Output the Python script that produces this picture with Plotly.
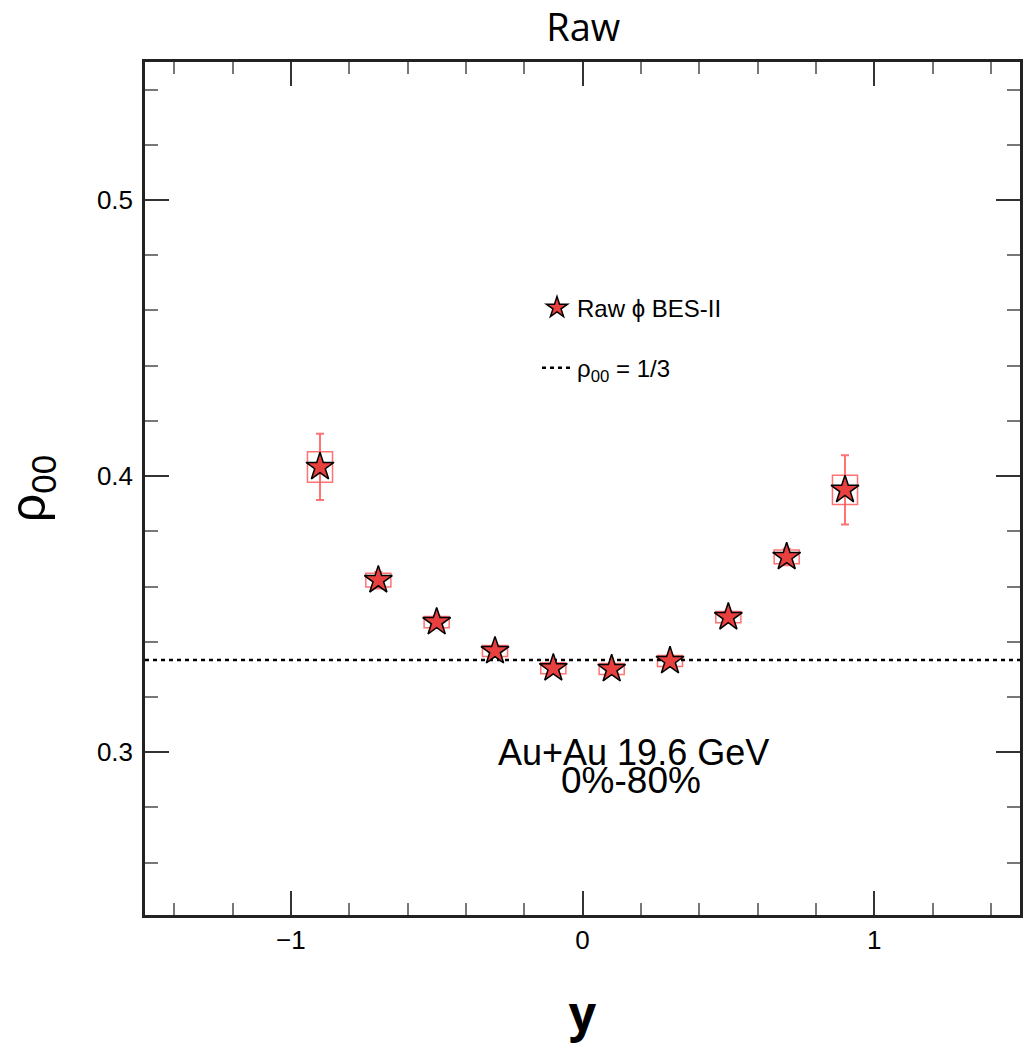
import plotly.graph_objects as go

# ---- data ----
rapidity = [-0.9, -0.7, -0.5, -0.3, -0.1, 0.1, 0.3, 0.5, 0.7, 0.9]
rho00 = [0.4033, 0.3623, 0.3471, 0.3366, 0.3304, 0.3301, 0.3330, 0.3489, 0.3707, 0.3950]
stat_err = [0.0120, 0.0030, 0.0020, 0.0020, 0.0020, 0.0020, 0.0020, 0.0020, 0.0030, 0.0125]
sys_err = [0.0055, 0.0025, 0.0020, 0.0020, 0.0020, 0.0020, 0.0020, 0.0020, 0.0025, 0.0053]
sys_halfwidth = 0.043
ref_value = 1.0 / 3.0
x_range = [-1.5, 1.5]
y_range = [0.241, 0.55]
series_name = "Raw \u03d5 BES-II"
ref_name = "\u03c1<sub>00</sub> = 1/3"
title_text = "Raw"
collision_text = "Au+Au 19.6 GeV"
centrality_text = "0%-80%"

RED = "#e8403e"
BOX_RED = "rgba(255,90,90,0.85)"

fig = go.Figure()

# systematic boxes
for xv, yv, s in zip(rapidity, rho00, sys_err):
    fig.add_shape(type="rect", xref="x", yref="y",
                  x0=xv - sys_halfwidth, x1=xv + sys_halfwidth,
                  y0=yv - s, y1=yv + s,
                  line=dict(color=BOX_RED, width=1.5), fillcolor="rgba(0,0,0,0)", layer="below")

# reference line
fig.add_trace(go.Scatter(x=x_range, y=[ref_value, ref_value], mode="lines",
                         line=dict(color="black", width=2.5, dash="4px,4px"),
                         name=ref_name, legendgroup="b", legendrank=2))

# data points
fig.add_trace(go.Scatter(x=rapidity, y=rho00, mode="markers",
                         marker=dict(symbol="star", size=21, color=RED,
                                     line=dict(color="black", width=1.5)),
                         error_y=dict(type="data", array=stat_err, visible=True,
                                      color="rgba(255,90,90,0.85)", thickness=2, width=4),
                         name=series_name, legendgroup="a", legendrank=1))

# text annotations
fig.add_annotation(x=0.175, y=0.3, xref="x", yref="y", text=collision_text, showarrow=False,
                   font=dict(family="Liberation Sans", size=36, color="black"))
fig.add_annotation(x=0.165, y=0.2899, xref="x", yref="y", text=centrality_text, showarrow=False,
                   font=dict(family="Liberation Sans", size=37, color="black"))

axis_common = dict(showline=True, linecolor="#222", linewidth=2.5, mirror="allticks",
                   ticks="inside", tickcolor="#333", tickwidth=2, showgrid=False,
                   zeroline=False,
                   tickfont=dict(family="Liberation Sans", size=26, color="black"))

fig.update_layout(
    width=1025, height=1048,
    paper_bgcolor="white", plot_bgcolor="white",
    margin=dict(l=145, r=2, t=62, b=133),
    title=dict(text=title_text, x=0.569, xanchor="center", y=0.974, yanchor="middle",
               font=dict(family="Open Sans", size=38, color="black")),
    showlegend=True,
    legend=dict(x=0.448, y=0.738, xanchor="left", yanchor="top",
                bgcolor="rgba(0,0,0,0)", traceorder="grouped", tracegroupgap=26,
                font=dict(family="Liberation Sans", size=24, color="black")),
    xaxis=dict(range=x_range, dtick=1, tick0=0, ticklen=24,
               minor=dict(dtick=0.2, tick0=0, ticklen=12, ticks="inside",
                          tickcolor="#777", tickwidth=2),
               title=dict(text="<b>y</b>", font=dict(family="Open Sans", size=48, color="black"),
                          standoff=44),
               **axis_common),
    yaxis=dict(range=y_range, dtick=0.1, tick0=0, ticklen=24, tickformat=".1f",
               minor=dict(dtick=0.02, tick0=0, ticklen=13, ticks="inside",
                          tickcolor="#777", tickwidth=2),
               title=dict(text="\u03c1<sub>00</sub>", font=dict(family="Liberation Sans", size=50, color="black"),
                          standoff=38),
               ticklabelstandoff=4,
               **axis_common),
)

fig.write_html("out.html")
